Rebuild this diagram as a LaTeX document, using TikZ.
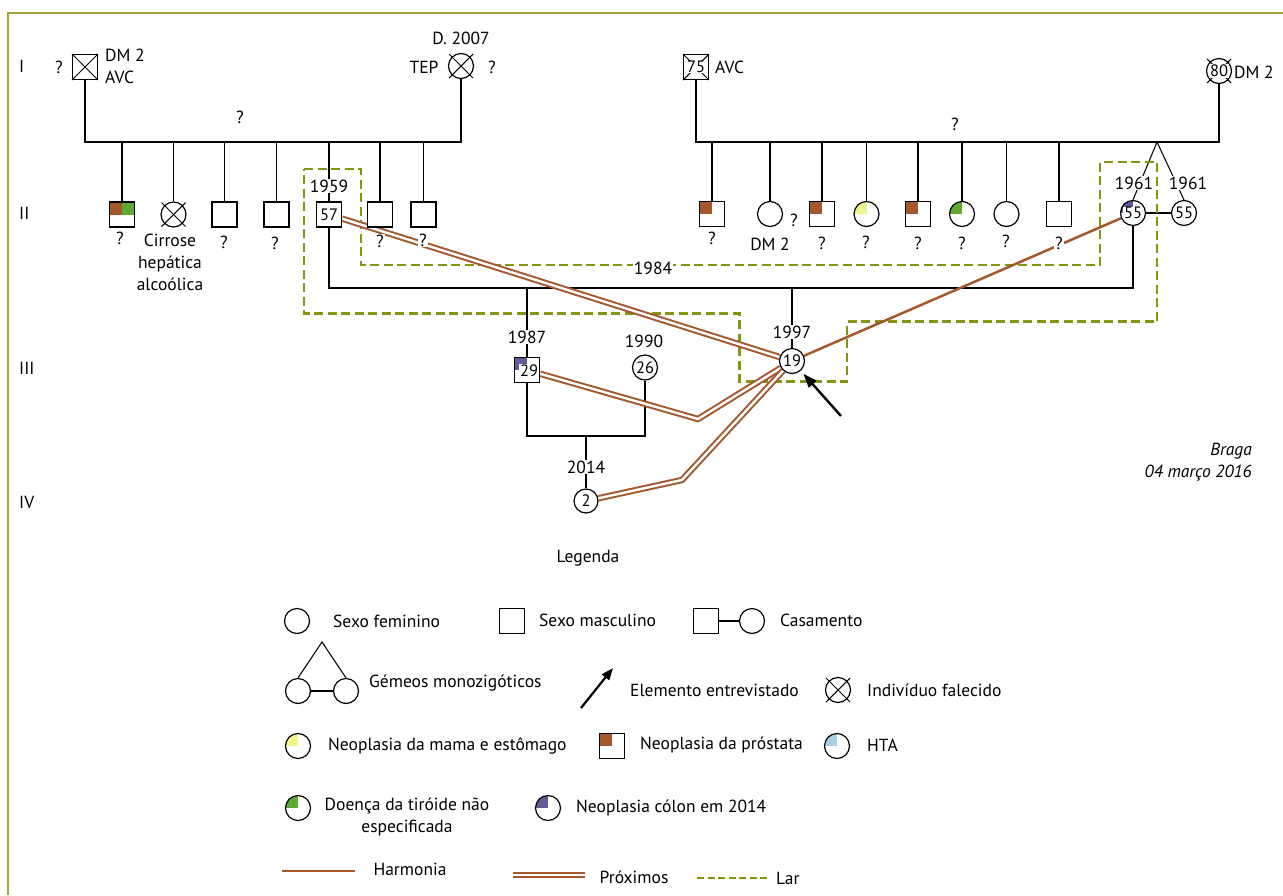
\documentclass[tikz,border=0pt]{standalone}
\usepackage{fontspec}
\setmainfont{PT Sans}
\usetikzlibrary{arrows.meta}
\definecolor{brn}{RGB}{163,88,45}
\definecolor{olv}{RGB}{135,148,15}
\definecolor{frm}{RGB}{165,165,60}
\definecolor{ylw}{RGB}{240,245,140}
\definecolor{grn}{RGB}{95,170,50}
\definecolor{blu}{RGB}{170,205,228}
\definecolor{pur}{RGB}{100,90,150}
\newcommand\myfs{\fontsize{17.5}{22}\selectfont}
\newcommand\numfs{\fontsize{16.5}{20}\selectfont}
\pgfdeclarelayer{bg}\pgfdeclarelayer{mid}\pgfsetlayers{bg,mid,main}
\tikzset{
 m/.style={draw, fill=white, line width=1.2pt, rectangle, minimum size=25pt, inner sep=0pt, font=\numfs},
 f/.style={draw, fill=white, line width=1.2pt, circle, minimum size=25pt, inner sep=0pt, font=\numfs},
 lbl/.style={font=\myfs, inner sep=1pt},
 wl/.style={lbl, fill=white},
 num/.style={font=\numfs, fill=white, inner sep=0.6pt},
 ln/.style={line width=1.05pt},
 harm/.style={brn, line width=2.5pt},
 prox/.style={draw=brn, double=white, line width=2pt, double distance=2.4pt},
 lar/.style={olv, line width=2.4pt, dash pattern=on 9pt off 4.5pt},
 qTL/.style={path picture={\fill[#1] (path picture bounding box.north west) rectangle (path picture bounding box.center);}},
 qTwo/.style={path picture={\fill[brn] (path picture bounding box.north west) rectangle (path picture bounding box.center);
   \fill[grn] (path picture bounding box.north east) rectangle (path picture bounding box.center);}},
}
\begin{document}
\begin{tikzpicture}[x=1pt,y=-1pt]
\useasboundingbox (0,0) rectangle (1283,895);

% generation labels
\node[lbl,anchor=west] (gI) at (18,66) {I};
\node[lbl,anchor=west] (gII) at (18,213) {II};
\node[lbl,anchor=west] (gIII) at (18,368) {III};
\node[lbl,anchor=west] (gIV) at (18,502) {IV};

% generation I
\node[m] (a1) at (85,67) {};
\draw[ln] (a1.north west) -- (a1.south east) (a1.north east) -- (a1.south west);
\node[lbl] (a1q) at (59,67) {?};
\node[lbl,anchor=west,align=left] (a1t) at (104,66) {DM 2\\AVC};
\node[f] (a2) at (461,66) {};
\draw[ln] ([shift={(-12,-12)}]a2.center) -- ([shift={(12,12)}]a2.center);
\draw[ln] ([shift={(-12,12)}]a2.center) -- ([shift={(12,-12)}]a2.center);
\node[lbl] (a2d) at (461,38) {D. 2007};
\node[lbl] (a2t) at (424,67) {TEP};
\node[lbl] (a2q) at (492,67) {?};
\node[lbl] (q1) at (240,117) {?};

\node[m] (a3) at (696,67) {};
\draw[ln] (a3.north west) -- (a3.south east) (a3.north east) -- (a3.south west);
\node[num] (a3n) at (a3) {75};
\node[lbl,anchor=west] (a3t) at (714,67) {AVC};
\node[f] (a4) at (1219,71) {};
\draw[ln] ([shift={(-12,-12)}]a4.center) -- ([shift={(12,12)}]a4.center);
\draw[ln] ([shift={(-12,12)}]a4.center) -- ([shift={(12,-12)}]a4.center);
\node[num] (a4n) at (a4) {80};
\node[lbl,anchor=west] (a4t) at (1233,72) {DM 2};
\node[lbl] (q2) at (955,124) {?};

% generation II left
\node[m,qTwo] (b1) at (122,214.5) {};
\node[f] (b2) at (173.5,214.5) {};
\draw[ln] ([shift={(-12,-12)}]b2.center) -- ([shift={(12,12)}]b2.center);
\draw[ln] ([shift={(-12,12)}]b2.center) -- ([shift={(12,-12)}]b2.center);
\node[m] (b3) at (224.5,214.5) {};
\node[m] (b4) at (276.5,214.5) {};
\node[m] (b5) at (329,214.5) {57};
\node[m] (b6) at (380,214.5) {};
\node[m] (b7) at (423.5,214.5) {};
\node[lbl] (b1q) at (120,238) {?};
\node[lbl,align=center] (b2t) at (170,262) {Cirrose\\hepática\\alcoólica};
\node[lbl] (b3q) at (224,242) {?};
\node[lbl] (b4q) at (275,243) {?};
\node[wl] (b5y) at (329,186) {1959};
\node[wl] (b6q) at (380,241) {?};
\node[wl] (b7q) at (423,240) {?};

% generation II right
\node[m,qTL=brn] (c1) at (712,214) {};
\node[f] (c2) at (770,214) {};
\node[m,qTL=brn] (c3) at (822,214) {};
\node[f,qTL=ylw] (c4) at (866.5,214) {};
\node[m,qTL=brn] (c5) at (918,214) {};
\node[f,qTL=grn] (c6) at (962,214) {};
\node[f] (c7) at (1006.5,214) {};
\node[m] (c8) at (1059,214) {};
\node[f,qTL=pur] (t1) at (1133,213) {};
\node[num] (t1n) at (t1) {55};
\node[f] (t2) at (1184,213) {55};
\node[lbl] (c1q) at (712,238) {?};
\node[lbl] (c2t) at (770,244) {DM 2};
\node[lbl] (c2q) at (794,220) {?};
\node[lbl] (c3q) at (822,243) {?};
\node[lbl] (c4q) at (866,242) {?};
\node[lbl] (c5q) at (918,243) {?};
\node[lbl] (c6q) at (962,243) {?};
\node[lbl] (c7q) at (1006,241) {?};
\node[wl] (c8q) at (1059,243) {?};
\node[wl] (t1y) at (1134,183) {1961};
\node[wl] (t2y) at (1188,183) {1961};

% generation III
\node[m,qTL=pur] (d1) at (527,370) {};
\node[num] (d1n) at (529,371) {29};
\node[wl] (d1y) at (527,337) {1987};
\node[f] (d2) at (645,367.5) {26};
\node[wl] (d2y) at (644,341) {1990};
\node[f] (d3) at (792,361) {19};
\node[wl] (d3y) at (792,332) {1997};

% generation IV
\node[f,minimum size=24pt] (e1) at (586,501) {2};
\node[wl] (e1y) at (586,467) {2014};

% Lar label
\node[wl] (lar84) at (653,268) {1984};

% date
\node[lbl,anchor=east,font=\myfs\itshape] (br1) at (1253,451) {Braga};
\node[lbl,anchor=east,font=\myfs\itshape] (br2) at (1253,473) {04 março 2016};

% structural coordinates
\coordinate (s1l) at (85,142); \coordinate (s1r) at (461,142);
\coordinate (s2l) at (696,142); \coordinate (s2r) at (1219,142);
\coordinate (ap) at (1157,142);
\coordinate (m1l) at (329,288); \coordinate (m1r) at (1133,288);
\coordinate (m2l) at (527,436); \coordinate (m2r) at (645,436);
\coordinate (k1) at (698,419); \coordinate (k2) at (682,480);
\coordinate (arT) at (841,416);

\begin{pgfonlayer}{bg}
\draw[frm, line width=1.7pt] (8,895) -- (8,13) -- (1283,13);
\draw[ln] (a1.south) -- (s1l) -- (s1r) -- (a2.south);
\draw[ln] (a3.south) -- (s2l) -- (s2r) -- (a4.south);
\foreach \n in {b1,b2,b3,b4,b5,b6,b7} \draw[ln] (\n.north) -- (\n.north |- s1l);
\foreach \n in {c1,c2,c3,c4,c5,c6,c7,c8} \draw[ln] (\n.north) -- (\n.north |- s2l);
\draw[ln] (ap) -- (t1.north) (ap) -- (t2.north);
\draw[ln] (t1) -- (t2);
\draw[ln] (b5.south) -- (m1l) -- (m1r) -- (t1.south);
\draw[ln] (d1.north |- m1l) -- (d1.north);
\draw[ln] (d3.north |- m1l) -- (d3.north);
\draw[ln] (d1.south) -- (m2l) -- (m2r) -- (d2.south);
\draw[ln] (e1.north |- m2l) -- (e1.north);
\draw[lar] (304,169) -- (361,169) -- (361,265) -- (1100,265) -- (1100,162) -- (1157,162) -- (1157,321.5) -- (847,321.5) -- (847,381.5) -- (739.5,381.5) -- (739.5,313.5) -- (304,313.5) -- cycle;
\end{pgfonlayer}

\begin{pgfonlayer}{mid}
\draw[prox] (b5) -- (d3);
\draw[prox] (d1) -- (k1) -- (d3);
\draw[prox] (e1) -- (k2) -- (d3);
\draw[harm] (d3) -- (t1);
\end{pgfonlayer}

\draw[line width=2.4pt, -{Triangle[length=14pt,width=10pt]}, shorten >=4pt] (arT) -- (d3);

% legend
\node[lbl] (leg) at (588,558) {Legenda};
\node[f] (lf1) at (297,621) {};
\node[lbl,anchor=west] (lf1t) at (332,621) {Sexo feminino};
\node[m] (lm1) at (512,621) {};
\node[lbl,anchor=west] (lm1t) at (538,620) {Sexo masculino};
\node[m] (lm2) at (706,621) {};
\node[f] (lf2) at (752,621) {};
\draw[ln] (lm2) -- (lf2);
\node[lbl,anchor=west] (lm2t) at (779,620) {Casamento};

\node[f] (lt1) at (298,691) {};
\node[f] (lt2) at (346,691) {};
\coordinate (lap) at (322,642);
\draw[ln] (lt1.north) -- (lap) -- (lt2.north);
\draw[ln] (lt1) -- (lt2);
\node[lbl,anchor=west] (ltt) at (368,683) {Gémeos monozigóticos};
\coordinate (la1) at (581,708); \coordinate (la2) at (613,668);
\draw[line width=2.2pt, -{Triangle[length=12pt,width=9pt]}] (la1) -- (la2);
\node[lbl,anchor=west] (lat) at (629,690) {Elemento entrevistado};
\node[f] (lf3) at (838,690) {};
\draw[ln] ([shift={(-12,-12)}]lf3.center) -- ([shift={(12,12)}]lf3.center);
\draw[ln] ([shift={(-12,12)}]lf3.center) -- ([shift={(12,-12)}]lf3.center);
\node[lbl,anchor=west] (lf3t) at (866,690) {Indivíduo falecido};

\node[f,qTL=ylw] (lf4) at (298,746) {};
\node[lbl,anchor=west] (lf4t) at (327,746) {Neoplasia da mama e estômago};
\node[m,qTL=brn] (lm3) at (612,746) {};
\node[lbl,anchor=west] (lm3t) at (639,745) {Neoplasia da próstata};
\node[f,qTL=blu] (lf5) at (837,746) {};
\node[lbl,anchor=west] (lf5t) at (866,745) {HTA};

\node[f,qTL=grn] (lf6) at (298,808) {};
\node[lbl,align=center] (lf6t) at (407,816.5) {Doença da tiróide não\\especificada};
\node[f,qTL=pur] (lf7) at (548,808) {};
\node[lbl,anchor=west] (lf7t) at (575,808) {Neoplasia cólon em 2014};

\coordinate (h1) at (282,871); \coordinate (h2) at (355,871);
\draw[harm] (h1) -- (h2);
\node[lbl] (h2t) at (410,869) {Harmonia};
\coordinate (p1) at (513,875); \coordinate (p2) at (585,875);
\draw[prox] (p1) -- (p2);
\node[lbl] (p2t) at (634,877) {Próximos};
\coordinate (l1) at (697,878); \coordinate (l2) at (768,878);
\draw[olv, line width=2pt, dash pattern=on 7pt off 3.5pt] (l1) -- (l2);
\node[lbl,anchor=west] (l2t) at (775,878) {Lar};
\end{tikzpicture}
\end{document}
